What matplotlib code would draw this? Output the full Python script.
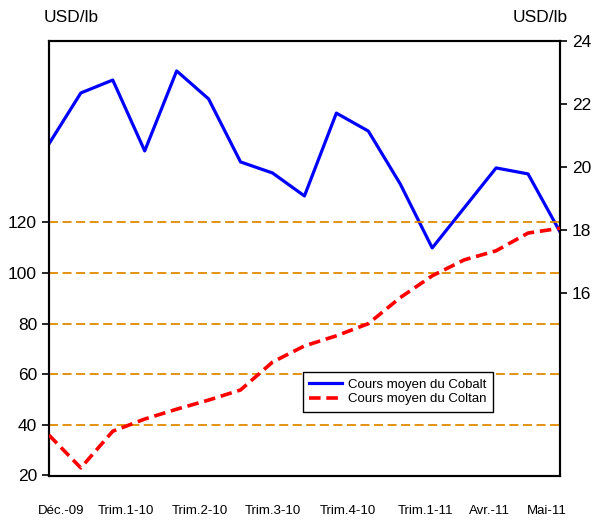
import matplotlib.pyplot as plt
from matplotlib.lines import Line2D

plt.rcParams['font.family'] = ['Liberation Sans Narrow', 'Liberation Sans', 'DejaVu Sans']

cobalt = [20.73, 22.35, 22.76, 20.51, 23.05, 22.16, 20.16, 19.81, 19.08,
          21.71, 21.14, 19.46, 17.43, 18.70, 19.97, 19.78, 17.94]
coltan = [36.0, 23.0, 37.5, 42.3, 46.2, 49.8, 53.8, 64.8, 71.2,
          75.2, 80.0, 90.3, 98.9, 105.2, 108.8, 115.8, 117.7]
periodes = ["Déc.-09", "Trim.1-10", "Trim.2-10", "Trim.3-10",
            "Trim.4-10", "Trim.1-11", "Avr.-11", "Mai-11"]
pos_periodes = [0.38, 2.42, 4.72, 7.0, 9.37, 11.8, 13.8, 15.6]
x = list(range(len(cobalt)))

fig = plt.figure(figsize=(6.11, 5.24), dpi=100)
ax = fig.add_axes([0.080, 0.0916, 0.8365, 0.8302])
ax2 = ax.twinx()

# axe gauche : coltan
for v in [40, 60, 80, 100, 120]:
    ax.axhline(v, color='#E08A00', lw=1.3, dashes=(5, 2.5), zorder=1)
ax.plot(x, coltan, color='#FF0000', lw=2.6, dashes=(3.2, 1.6), zorder=3)
ax.set_ylim(19.8, 191.7)
ax.set_yticks([20, 40, 60, 80, 100, 120])
ax.set_xlim(0, len(x) - 1)
ax.set_xticks(pos_periodes)
ax.set_xticklabels(periodes, fontsize=9.5)
ax.tick_params(axis='x', length=0, pad=21)
ax.tick_params(axis='y', labelsize=12.5, length=5, width=1.2, direction='out')

# axe droit : cobalt
ax2.plot(x, cobalt, color='#0000FF', lw=2.3)
ax2.set_ylim(10.19, 24)
ax2.set_yticks([16, 18, 20, 22, 24])
ax2.tick_params(axis='y', labelsize=12.5, length=5, width=1.2, direction='out')

ax.set_zorder(ax2.get_zorder() + 1)
ax.patch.set_visible(False)
for a in (ax, ax2):
    for s in a.spines.values():
        s.set_linewidth(1.5)

fig.text(0.072, 0.967, "USD/lb", fontsize=12.5, ha='left', va='center')
fig.text(0.930, 0.967, "USD/lb", fontsize=12.5, ha='right', va='center')

handles = [Line2D([], [], color='#0000FF', lw=2.3),
           Line2D([], [], color='#FF0000', lw=2.6, dashes=(3.2, 1.6))]
leg = ax.legend(handles, ["Cours moyen du Cobalt", "Cours moyen du Coltan"],
                loc='lower left', bbox_to_anchor=(0.497, 0.147),
                fontsize=9.5, fancybox=False, framealpha=1, edgecolor='black',
                handlelength=2.5, handletextpad=0.4, labelspacing=0.2,
                borderpad=0.5, borderaxespad=0)
leg.get_frame().set_linewidth(1.0)

fig.savefig("out.png", dpi=100)
